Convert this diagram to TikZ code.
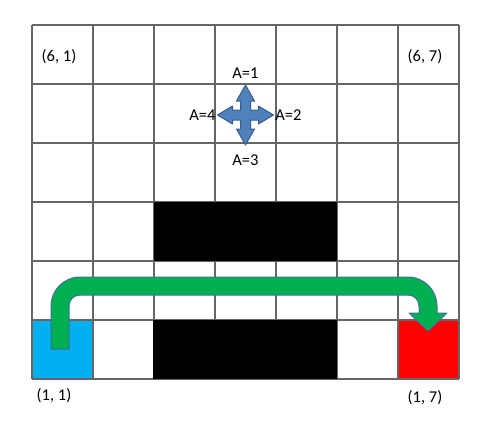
\documentclass[tikz,border=0pt]{standalone}
\usepackage{fontspec}
\setmainfont{Carlito}
\usetikzlibrary{shapes, arrows, positioning}
\definecolor{startblue}{HTML}{00B0F0}
\definecolor{goalred}{HTML}{FF0000}
\definecolor{pathgreen}{HTML}{00B050}
\definecolor{pathedge}{HTML}{41719C}
\definecolor{movefill}{HTML}{4F81BD}
\definecolor{moveedge}{HTML}{385D8A}

\begin{document}
\begin{tikzpicture}[x=1pt, y=1pt, >=latex,
    lbl/.style={inner sep=0pt, font=\fontsize{16.5}{19}\selectfont},
    gridline/.style={draw=black!60, line width=1.2pt}]
    \useasboundingbox (0,0) rectangle (491,-421);

    % start and goal cells
    \fill [startblue] (32,-320) rectangle (93,-379);
    \fill [goalred] (398,-320) rectangle (459,-379);

    \foreach \i in {0,...,7}
        \draw [gridline] ({32+61*\i},-25) -- ({32+61*\i},-379);
    \foreach \j in {0,...,6}
        \draw [gridline] (32,{-25-59*\j}) -- (459,{-25-59*\j});

    % walls
    \fill [black] (154,-202) rectangle (337,-261);
    \fill [black] (153,-320) rectangle (337,-379);

    % path from start to goal
    \draw [fill=pathgreen, draw=pathedge, line width=1pt, line join=round]
        (51,-349) -- (51,-306) arc (180:90:29) -- (408,-277) arc (90:0:29)
        -- (437,-313) -- (447,-313) -- (428,-331) -- (409,-313) -- (419,-313)
        -- (419,-306) arc (0:90:11) -- (80,-295) arc (90:180:11)
        -- (69,-349) -- cycle;

    % four-way move arrow
    \coordinate (move) at (245.5,-115);
    \draw [fill=movefill, draw=moveedge, line width=1pt, line join=round, shift={(move)}]
        (0,30) -- (9,14) -- (5,14) -- (5,5) -- (13,5) -- (13,9) -- (28,0)
        -- (13,-9) -- (13,-5) -- (5,-5) -- (5,-14) -- (9,-14) -- (0,-30)
        -- (-9,-14) -- (-5,-14) -- (-5,-5) -- (-13,-5) -- (-13,-9) -- (-28,0)
        -- (-13,9) -- (-13,5) -- (-5,5) -- (-5,14) -- (-9,14) -- cycle;

    \node [lbl, above of=move, node distance=42pt] (a1) {A=1};
    \node [lbl, right of=move, node distance=43pt] (a2) {A=2};
    \node [lbl, below of=move, node distance=45pt] (a3) {A=3};
    \node [lbl, left of=move, node distance=43pt] (a4) {A=4};

    \node [lbl] (c61) at (59,-57) {(6, 1)};
    \node [lbl] (c67) at (425,-57) {(6, 7)};
    \node [lbl] (c11) at (54,-396) {(1, 1)};
    \node [lbl] (c17) at (425,-398) {(1, 7)};
\end{tikzpicture}
\end{document}
